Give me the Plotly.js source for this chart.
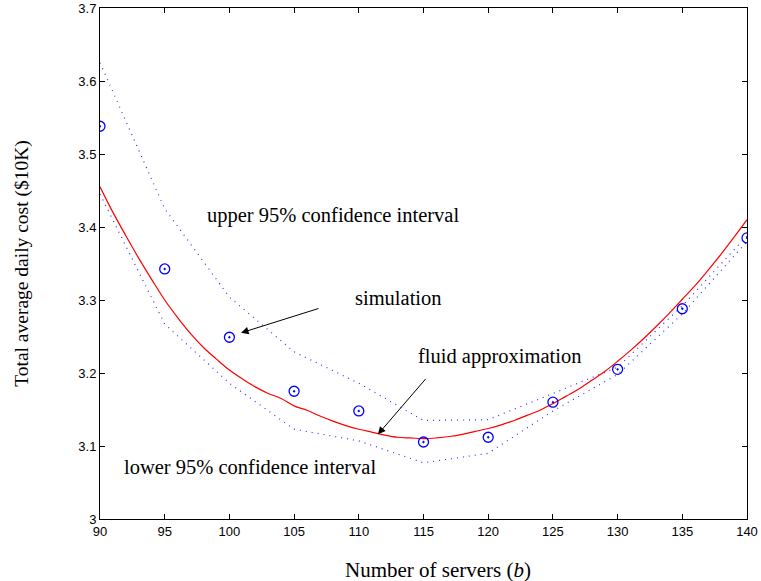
<!DOCTYPE html>
<html><head><meta charset="utf-8">
<script src="https://cdn.plot.ly/plotly-3.0.1.min.js"></script>
<style>body{margin:0;background:#fff}#c{width:761px;height:581px}</style>
</head><body><div id="c"></div>
<script>
const simX = [90,95,100,105,110,115,120,125,130,135,140];
const simY = [3.538,3.3425,3.249,3.175,3.148,3.1055,3.112,3.160,3.205,3.288,3.385];
const upperY = [3.625,3.425,3.304,3.229,3.186,3.135,3.136,3.172,3.208,3.292,3.388];
const lowerY = [3.445,3.267,3.186,3.123,3.107,3.077,3.090,3.148,3.198,3.281,3.380];
const fluidX = [90,91,92,93,94,95,96,97,98,99,100,101,102,103,104,105,106,107,108,109,110,111,112,113,114,115,116,117,118,119,120,121,122,123,124,125,126,127,128,129,130,131,132,133,134,135,136,137,138,139,140];
const fluidY = [3.455,3.420,3.388,3.357,3.328,3.300,3.276,3.254,3.235,3.219,3.204,3.192,3.181,3.172,3.165,3.155,3.149,3.141,3.134,3.128,3.123,3.119,3.115,3.112,3.111,3.110,3.111,3.113,3.116,3.120,3.124,3.129,3.135,3.142,3.149,3.158,3.168,3.178,3.190,3.202,3.216,3.231,3.247,3.264,3.282,3.301,3.320,3.341,3.363,3.386,3.410];
const xTicks = [90,95,100,105,110,115,120,125,130,135,140];
const yTicks = [3,3.1,3.2,3.3,3.4,3.5,3.6,3.7];

const serif = 'Liberation Serif, DejaVu Serif, serif';
const traces = [
  {x: simX, y: upperY, mode:'lines', line:{color:'#3030ff', dash:'1px,5px', width:1.2}, hoverinfo:'skip'},
  {x: simX, y: lowerY, mode:'lines', line:{color:'#3030ff', dash:'1px,5px', width:1.2}, hoverinfo:'skip'},
  {x: fluidX, y: fluidY, mode:'lines', line:{color:'#ff0000', width:1.2, shape:'spline'}},
  {x: simX, y: simY, mode:'markers', marker:{symbol:'circle-dot', size:10, color:'rgba(0,0,0,0)', line:{color:'#0000ff', width:1.3}}}
];
const axBase = {showgrid:false, zeroline:false, showline:true, linecolor:'#000', linewidth:1, mirror:'ticks', ticks:'inside', ticklen:5, tickcolor:'#000', tickfont:{family:'Liberation Sans, Arial, sans-serif', size:13, color:'#000'}};
const layout = {
  width:761, height:581, showlegend:false,
  margin:{l:100, r:14, t:8, b:62},
  paper_bgcolor:'#fff', plot_bgcolor:'#fff',
  xaxis: Object.assign({}, axBase, {range:[90,140], tickvals:xTicks, ticktext:xTicks.map(String)}),
  yaxis: Object.assign({}, axBase, {range:[3,3.7], tickvals:yTicks, ticktext:yTicks.map(v=>String(v)),
    title:{text:'Total average daily cost ($10K)', font:{family:serif, size:19.5, color:'#000'}, standoff:44}}),
  annotations:[
    {x:0.522, y:-0.0998, xref:'paper', yref:'paper', xanchor:'center', yanchor:'middle', text:'Number of servers (<i>b</i>)', showarrow:false, font:{family:serif, size:21, color:'#000'}},
    {x:108.0, y:3.4164, xref:'x', yref:'y', text:'upper 95% confidence interval', showarrow:false, font:{family:serif, size:20.5, color:'#000'}},
    {x:113.1, y:3.303, xref:'x', yref:'y', text:'simulation', showarrow:false, font:{family:serif, size:20.5, color:'#000'}},
    {x:120.9, y:3.223, xref:'x', yref:'y', text:'fluid approximation', showarrow:false, font:{family:serif, size:20.5, color:'#000'}},
    {x:101.6, y:3.071, xref:'x', yref:'y', text:'lower 95% confidence interval', showarrow:false, font:{family:serif, size:20.5, color:'#000'}},
    {x:100.9, y:3.255, xref:'x', yref:'y', axref:'x', ayref:'y', ax:107.0, ay:3.289, text:'', showarrow:true, arrowhead:2, arrowsize:1.5, arrowwidth:1, arrowcolor:'#000'},
    {x:111.48, y:3.116, xref:'x', yref:'y', axref:'x', ayref:'y', ax:115.27, ay:3.194, text:'', showarrow:true, arrowhead:2, arrowsize:1.5, arrowwidth:1, arrowcolor:'#000'}
  ]
};
Plotly.newPlot('c', traces, layout, {displayModeBar:false, staticPlot:true});
</script></body></html>
